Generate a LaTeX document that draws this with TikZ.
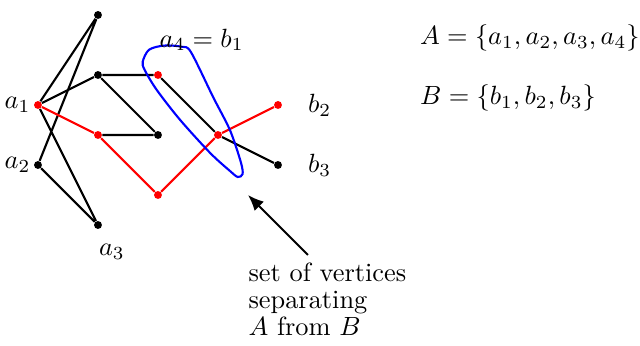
\documentclass[tikz,border=0pt]{standalone}
\usepackage{tikz}
\usetikzlibrary{positioning,arrows.meta}
\usepackage{amsmath}

\begin{document}
\begin{tikzpicture}[x=0.8cm,y=0.8cm,
        vtx/.style={circle, fill=black, inner sep=0pt, minimum size=3pt},
        rvtx/.style={vtx, fill=red},
        lbl/.style={inner sep=1pt}]
        \useasboundingbox (-0.633,-2) rectangle (10.033,3.75);

        % Draw the vertices
        \node[rvtx] (a1) at (0,2) {};
        \node[vtx] (a2) at (0,1) {};
        \node[vtx] (a3) at (1,0) {};
        \node[vtx] (top) at (1,3.5) {};
        \node[vtx] (u) at (1,2.5) {};
        \node[rvtx] (a4) at (2,2.5) {};
        \node[rvtx] (v) at (1,1.5) {};
        \node[vtx] (w) at (2,1.5) {};
        \node[rvtx] (x) at (2,0.5) {};
        \node[rvtx] (y) at (3,1.5) {};
        \node[rvtx] (b2) at (4,2) {};
        \node[vtx] (b3) at (4,1) {};

        % Draw the black edges
        \draw[thick] (top) -- (a1) -- (a3) -- (a2) -- (top);
        \draw[thick] (a1) -- (u) -- (a4) -- (y) -- (b3);
        \draw[thick] (u) -- (w) -- (v);

        % Draw the red path
        \draw[thick, red] (a1) -- (v) -- (x) -- (y) -- (b2);

        % Draw the separating set
        \draw[thick, blue] plot[smooth cycle, tension=0.5] coordinates {(1.745,2.72) (1.85,2.92)
            (2.1,2.99) (2.4,2.97) (2.55,2.88) (2.92,2.13) (3.2,1.58) (3.38,1.05) (3.41,0.85)
            (3.33,0.80) (3.2,0.9) (2.87,1.2) (2.37,1.75) (1.98,2.25) (1.78,2.58)};

        % Labels of the vertices
        \node[lbl, left=0pt of a1] (la1) {$a_1$};
        \node[lbl, left=0pt of a2] (la2) {$a_2$};
        \node[lbl, below right=5pt and -2pt of a3] (la3) {$a_3$};
        \node[lbl, above right=6.7pt and -1.8pt of a4] (la4) {$a_4 = b_1$};
        \node[lbl, right=8.5pt of b2] (lb2) {$b_2$};
        \node[lbl, right=8.5pt of b3] (lb3) {$b_3$};

        % The two sets
        \node[anchor=west, inner sep=0pt] (setA) at (6.36,3.12) {$A = \{a_1, a_2, a_3, a_4\}$};
        \node[anchor=west, inner sep=0pt] (setB) at (6.36,2.12) {$B = \{b_1, b_2, b_3\}$};

        % Add the note with its arrow
        \node[anchor=north west, inner sep=0pt, align=left, font={\fontsize{10}{10.3}\selectfont}]
            (note) at (3.5,-0.617) {set of vertices\\ separating\\ $A$ from $B$};
        \coordinate (tail) at (4.5,-0.5);
        \coordinate (tip) at (3.5,0.5);
        \draw[thick, -{Latex[length=6pt,width=5pt]}] (tail) -- (tip);
    \end{tikzpicture}
\end{document}
